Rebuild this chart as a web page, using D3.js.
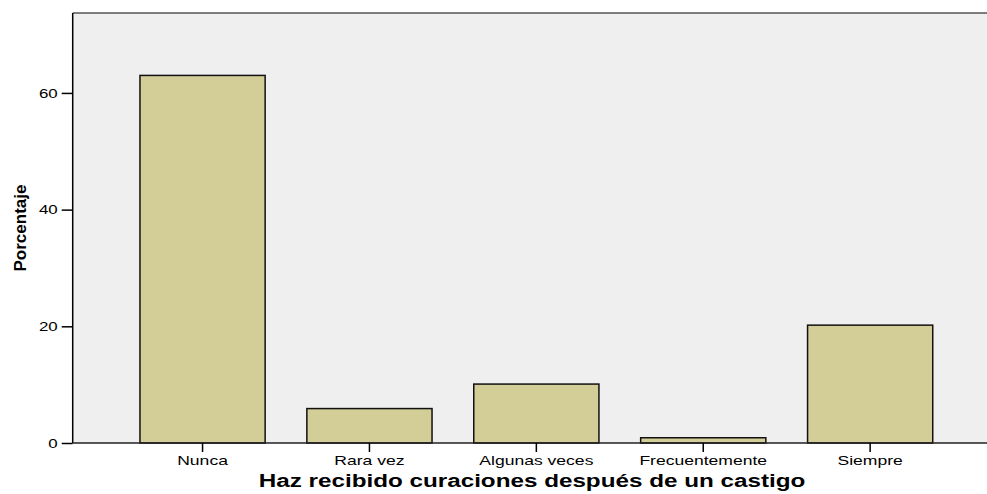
<!DOCTYPE html>
<html><head><meta charset="utf-8">
<script src="https://cdn.jsdelivr.net/npm/d3@7"></script>
<style>body{margin:0;background:#fff}svg{display:block}text{font-family:Arial,"Liberation Sans",sans-serif;fill:#000}</style>
</head><body>
<script>
const categories = ["Nunca","Rara vez","Algunas veces","Frecuentemente","Siempre"];
const values = [63.0, 5.9, 10.1, 0.9, 20.2];
const yTicks = [0,20,40,60];
const yTitle = "Porcentaje";
const xTitle = "Haz recibido curaciones después de un castigo";

(function(){
const W=987,H=494;
const pL=72.7,pR=1000,pT=13,pB=443;
const svg=d3.select("body").append("svg").attr("width",W).attr("height",H);

const x=d3.scaleBand().domain(categories).range([pL,pR]).paddingInner(0.25).paddingOuter(0.403);
const y=d3.scaleLinear().domain([0,73.7]).range([pB,pT]);

svg.append("rect").attr("x",pL).attr("y",pT).attr("width",pR-pL).attr("height",pB-pT).attr("fill","#efefef");
svg.append("line").attr("x1",pL).attr("x2",pR).attr("y1",pT).attr("y2",pT).attr("stroke","#555").attr("stroke-width",1.5);

svg.selectAll("rect.bar").data(values).enter().append("rect").attr("class","bar")
  .attr("x",(d,i)=>x(categories[i])).attr("width",x.bandwidth())
  .attr("y",d=>y(d)).attr("height",d=>pB-y(d))
  .attr("fill","#d3ce97").attr("stroke","#111").attr("stroke-width",1.5);

const ya=svg.append("g").attr("transform",`translate(${pL},0)`)
  .call(d3.axisLeft(y).tickValues(yTicks).tickSize(11).tickPadding(4).tickFormat(d3.format("d")));
ya.select(".domain").attr("stroke","#000").attr("stroke-width",1.5).attr("d",`M0,${pT}V${pB}`);
ya.selectAll(".tick line").attr("stroke","#000").attr("stroke-width",1.5);
ya.selectAll(".tick text").attr("font-size",13).attr("font-family","Arial,'Liberation Sans',sans-serif").attr("fill","#000")
  .each(function(){const t=d3.select(this);const xx=+t.attr("x");t.attr("x",null).attr("transform",`translate(${xx},0) scale(1.3,1)`);});

const xa=svg.append("g").attr("transform",`translate(0,${pB})`)
  .call(d3.axisBottom(x).tickSize(9).tickPadding(3));
xa.select(".domain").attr("stroke","#222").attr("stroke-width",1.5).attr("d",`M${pL},0H${pR}`);
xa.selectAll(".tick line").attr("stroke","#000").attr("stroke-width",1.5);
xa.selectAll(".tick text").attr("font-size",13).attr("font-family","Arial,'Liberation Sans',sans-serif").attr("fill","#000")
  .attr("dy",null).attr("y",0).attr("transform","translate(0,22) scale(1.35,1)");

const xt=svg.append("text").attr("font-size",17.5).attr("font-weight","bold").attr("text-anchor","middle")
  .attr("transform",`translate(532,487)`).text(xTitle);
const L=xt.node().getComputedTextLength();
xt.attr("transform",`translate(532,487) scale(${547/L},1)`);

svg.append("text").attr("font-size",16).attr("font-weight","bold").attr("text-anchor","middle")
  .attr("transform","translate(25.5,228) rotate(-90)").attr("textLength",87).attr("lengthAdjust","spacingAndGlyphs").text(yTitle);
})();
</script>
</body></html>
